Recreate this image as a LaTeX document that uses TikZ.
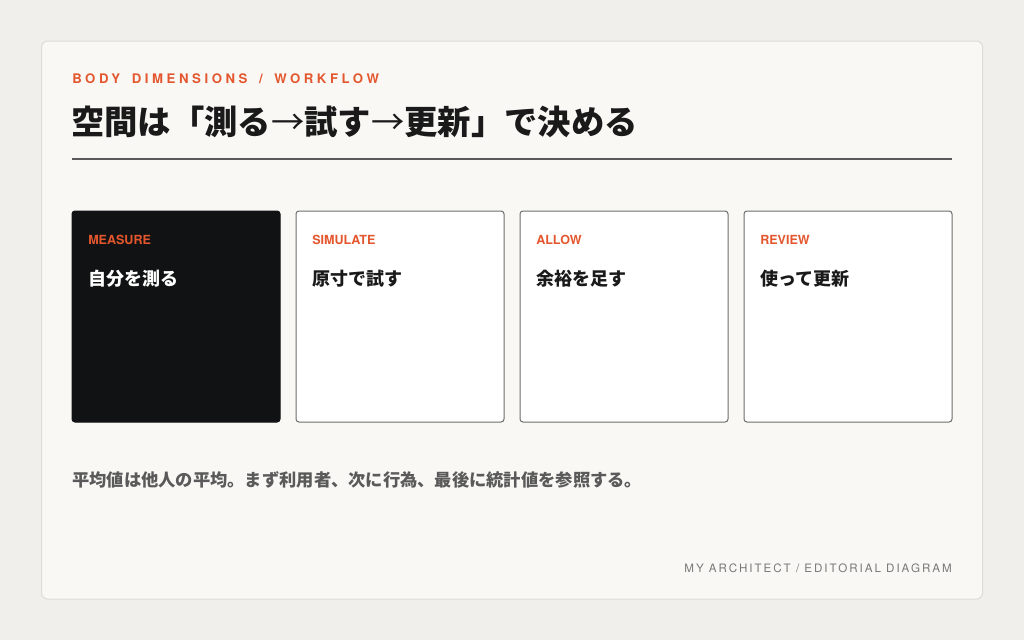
\documentclass[tikz,border=0pt]{standalone}
\usepackage{fontspec}
\setmainfont{TeX Gyre Heros}
\newfontfamily\jpfont{Noto Sans CJK JP}
\newfontfamily\kickerfont[LetterSpace=27, WordSpace=1.6]{TeX Gyre Heros}
\newfontfamily\footfont[LetterSpace=17]{TeX Gyre Heros}
\usepackage{xcolor}
\usetikzlibrary{positioning}
\definecolor{pagebg}{HTML}{F0EFEC}
\definecolor{cardbg}{HTML}{F9F8F5}
\definecolor{cardedge}{HTML}{DEDCD7}
\definecolor{accent}{HTML}{E4572E}
\definecolor{ink}{HTML}{1A1A1A}
\definecolor{stepdark}{HTML}{111213}
\definecolor{stepedge}{HTML}{6E6E6E}
\definecolor{muted}{HTML}{5A5A5A}
\definecolor{footgray}{HTML}{787878}
\newcommand{\thinarrow}{{\mdseries →}}

\begin{document}
\begin{tikzpicture}[
    x=0.75pt, y=-0.75pt,
    panel/.style={rectangle, draw=cardedge, fill=cardbg, rounded corners=4.5pt, line width=0.75pt},
    stepbox/.style={rectangle, draw=stepedge, fill=white, rounded corners=2.2pt, line width=0.75pt, minimum width=156pt, minimum height=158.25pt, inner sep=0pt},
    darkbox/.style={stepbox, draw=stepdark, fill=stepdark},
    steptag/.style={anchor=west, inner sep=0pt, text=accent, font=\bfseries\fontsize{9.4pt}{11pt}\selectfont},
    steptext/.style={anchor=west, inner sep=0pt, text=ink, font=\jpfont\bfseries\fontsize{13.5pt}{16pt}\selectfont}
]

% Page and panel
\fill[pagebg] (0,0) rectangle (1024,640);
\node[panel, minimum width=705.75pt, minimum height=418.5pt] (panel) at (512,320) {};

% Heading
\node[anchor=west, inner sep=0pt, text=accent, font=\kickerfont\bfseries\fontsize{9.9pt}{11pt}\selectfont] (kicker) at (72,79) {BODY DIMENSIONS / WORKFLOW};
\node[anchor=west, inner sep=0pt, text=ink, font=\jpfont\bfseries\fontsize{25pt}{28pt}\selectfont] (title) at (71,122) {空間は「測る\thinarrow 試す\thinarrow 更新」で決める};
\draw[muted, line width=1.1pt] (72,159) -- (952,159);

% Step cards
\node[darkbox] (measure) at (176,316.5) {};
\node[stepbox] (simulate) at (400,316.5) {};
\node[stepbox] (allow) at (624,316.5) {};
\node[stepbox] (review) at (848,316.5) {};

% Card labels
\node[steptag] (measuretag) at (88,240) {MEASURE};
\node[steptag] (simulatetag) at (312,240) {SIMULATE};
\node[steptag] (allowtag) at (536,240) {ALLOW};
\node[steptag] (reviewtag) at (760,240) {REVIEW};

\node[steptext, text=white] (measuretext) at (88,279) {自分を測る};
\node[steptext] (simulatetext) at (312,279) {原寸で試す};
\node[steptext] (allowtext) at (536,279) {余裕を足す};
\node[steptext] (reviewtext) at (760,279) {使って更新};

% Note and footer
\node[anchor=west, inner sep=0pt, text=muted, font=\jpfont\bfseries\fontsize{12.95pt}{15pt}\selectfont] (note) at (72,480) {平均値は他人の平均。まず利用者、次に行為、最後に統計値を参照する。};
\node[anchor=east, inner sep=0pt, text=footgray, font=\footfont\fontsize{8.7pt}{10pt}\selectfont] (footer) at (952,568) {MY ARCHITECT / EDITORIAL DIAGRAM};

\end{tikzpicture}
\end{document}
